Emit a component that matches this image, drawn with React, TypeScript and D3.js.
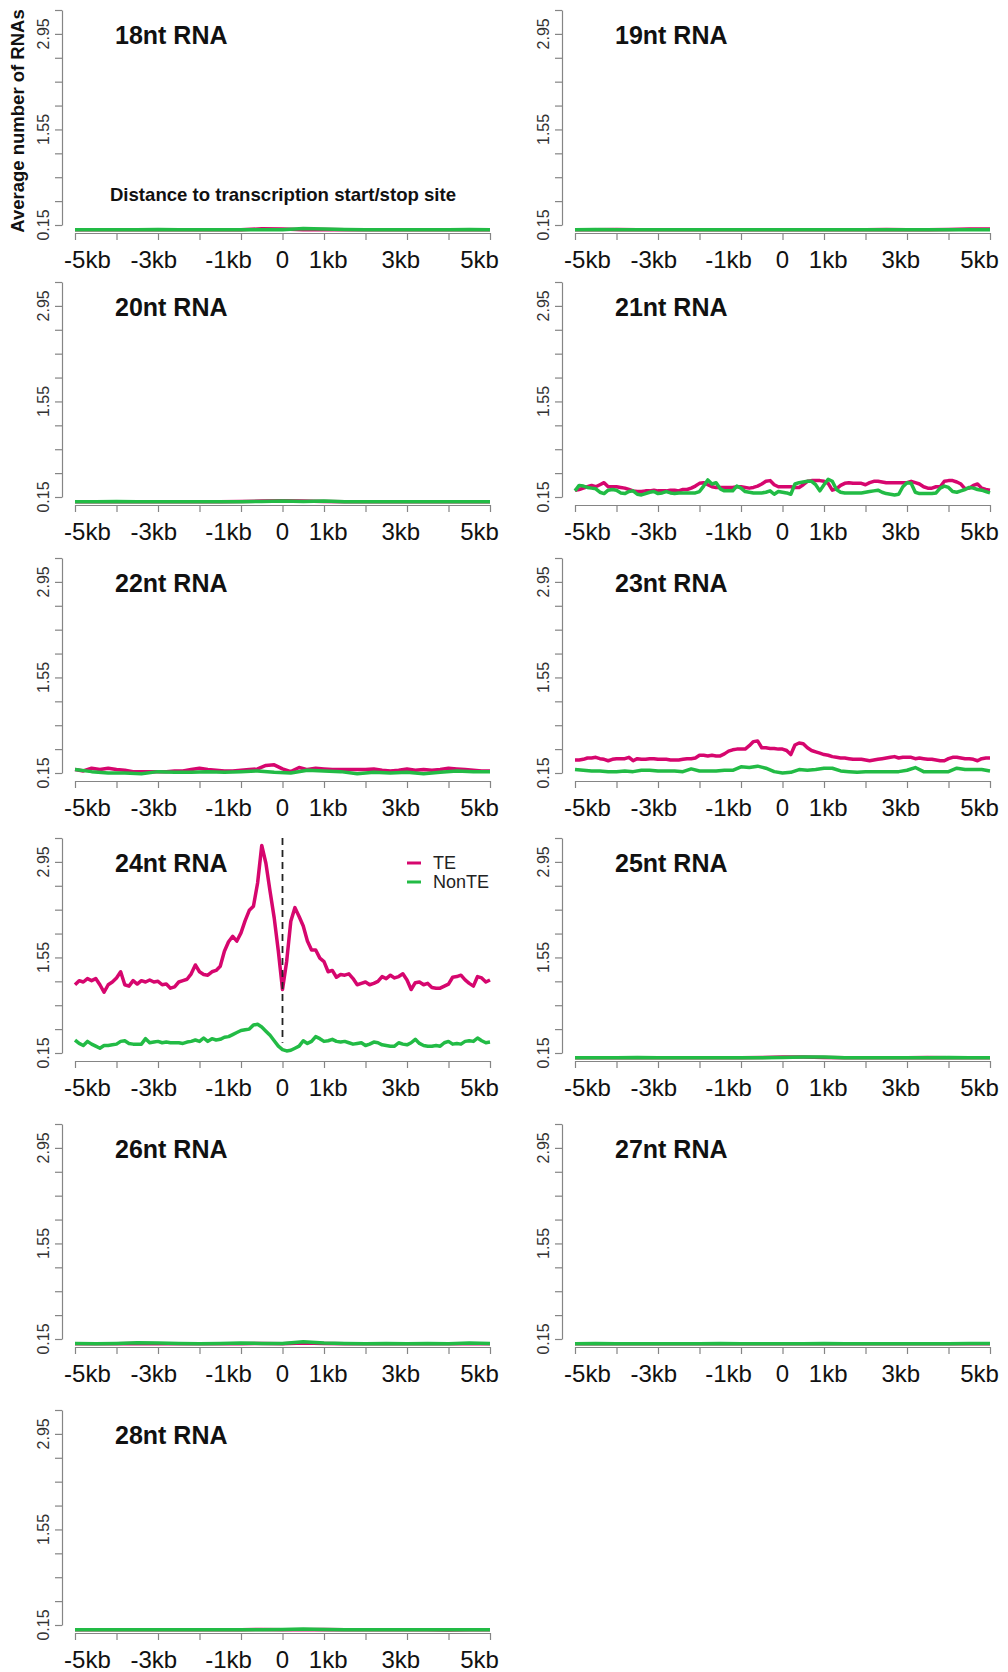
import React, { useEffect, useRef } from "react";
import * as d3 from "d3";

// every series is spread evenly over the -5kb .. 5kb window
const te18 = [0.08, 0.08, 0.08, 0.08, 0.08, 0.08, 0.08, 0.08, 0.08, 0.095, 0.09, 0.08, 0.085, 0.08, 0.08, 0.08, 0.08, 0.08, 0.08, 0.08, 0.08];
const non18 = [0.08, 0.08, 0.08, 0.08, 0.085, 0.08, 0.08, 0.08, 0.08, 0.08, 0.08, 0.1, 0.09, 0.085, 0.08, 0.08, 0.08, 0.08, 0.08, 0.085, 0.08];
const te19 = [0.08, 0.08, 0.085, 0.08, 0.08, 0.08, 0.08, 0.08, 0.08, 0.08, 0.08, 0.08, 0.08, 0.08, 0.08, 0.085, 0.08, 0.08, 0.085, 0.09, 0.09];
const non19 = [0.08, 0.085, 0.08, 0.08, 0.08, 0.08, 0.08, 0.08, 0.08, 0.08, 0.08, 0.08, 0.08, 0.08, 0.08, 0.08, 0.08, 0.08, 0.08, 0.08, 0.08];
const te20 = [0.08, 0.08, 0.08, 0.08, 0.08, 0.08, 0.08, 0.08, 0.085, 0.09, 0.095, 0.09, 0.085, 0.08, 0.08, 0.08, 0.08, 0.08, 0.08, 0.08, 0.08];
const non20 = [0.08, 0.08, 0.085, 0.08, 0.08, 0.08, 0.08, 0.08, 0.08, 0.085, 0.09, 0.085, 0.09, 0.08, 0.08, 0.08, 0.08, 0.08, 0.08, 0.08, 0.08];

const te21 = [0.25, 0.26, 0.28, 0.3, 0.32, 0.3, 0.33, 0.36, 0.3, 0.3, 0.3, 0.29, 0.28, 0.26, 0.24, 0.23, 0.23, 0.24, 0.24, 0.25,
  0.24, 0.24, 0.24, 0.25, 0.25, 0.24, 0.26, 0.26, 0.28, 0.31, 0.35, 0.36, 0.33, 0.3, 0.29, 0.29, 0.29, 0.29, 0.29, 0.3,
  0.3, 0.29, 0.28, 0.29, 0.31, 0.34, 0.38, 0.39, 0.33, 0.3, 0.3, 0.3, 0.3, 0.29, 0.29, 0.33, 0.38, 0.39, 0.39, 0.39,
  0.38, 0.35, 0.25, 0.27, 0.32, 0.35, 0.36, 0.35, 0.35, 0.35, 0.33, 0.36, 0.38, 0.38, 0.37, 0.36, 0.36, 0.36, 0.36, 0.36,
  0.36, 0.38, 0.36, 0.34, 0.3, 0.28, 0.28, 0.3, 0.3, 0.38, 0.39, 0.39, 0.37, 0.34, 0.27, 0.28, 0.32, 0.34, 0.28, 0.26, 0.25];
const non21 = [0.24, 0.32, 0.31, 0.29, 0.28, 0.27, 0.22, 0.2, 0.25, 0.26, 0.25, 0.21, 0.2, 0.23, 0.24, 0.19, 0.18, 0.2, 0.22, 0.23,
  0.2, 0.21, 0.23, 0.21, 0.2, 0.21, 0.21, 0.21, 0.21, 0.21, 0.23, 0.31, 0.4, 0.34, 0.36, 0.27, 0.24, 0.24, 0.24, 0.31,
  0.28, 0.23, 0.22, 0.21, 0.21, 0.21, 0.22, 0.24, 0.19, 0.23, 0.22, 0.21, 0.19, 0.34, 0.36, 0.37, 0.38, 0.38, 0.33, 0.24,
  0.33, 0.41, 0.38, 0.26, 0.22, 0.21, 0.21, 0.21, 0.21, 0.21, 0.22, 0.23, 0.24, 0.25, 0.22, 0.2, 0.19, 0.18, 0.19, 0.3,
  0.36, 0.35, 0.22, 0.2, 0.2, 0.2, 0.2, 0.21, 0.28, 0.31, 0.29, 0.23, 0.22, 0.24, 0.26, 0.29, 0.28, 0.26, 0.25, 0.23, 0.21];

const te22 = [0.2, 0.18, 0.22, 0.2, 0.22, 0.2, 0.19, 0.17, 0.17, 0.17, 0.17, 0.17, 0.18, 0.18, 0.2, 0.22, 0.2, 0.19, 0.18, 0.18,
  0.19, 0.2, 0.21, 0.26, 0.27, 0.21, 0.17, 0.23, 0.2, 0.22, 0.21, 0.2, 0.2, 0.2, 0.2, 0.2, 0.21, 0.19, 0.18, 0.19,
  0.21, 0.19, 0.2, 0.19, 0.2, 0.22, 0.21, 0.2, 0.19, 0.18, 0.18];
const non22 = [0.2, 0.17, 0.15, 0.15, 0.14, 0.17, 0.16, 0.16, 0.17, 0.16, 0.17, 0.18, 0.16, 0.15, 0.19, 0.18, 0.17, 0.14, 0.16, 0.15,
  0.16, 0.14, 0.16, 0.18, 0.17, 0.17];

const te23 = [0.34, 0.34, 0.35, 0.37, 0.37, 0.38, 0.36, 0.35, 0.33, 0.35, 0.36, 0.36, 0.36, 0.38, 0.33, 0.36, 0.35, 0.35, 0.36, 0.36,
  0.35, 0.35, 0.35, 0.34, 0.34, 0.34, 0.35, 0.36, 0.36, 0.37, 0.41, 0.41, 0.4, 0.41, 0.4, 0.4, 0.43, 0.47, 0.49, 0.5,
  0.5, 0.5, 0.55, 0.61, 0.62, 0.52, 0.52, 0.51, 0.51, 0.5, 0.5, 0.48, 0.42, 0.56, 0.59, 0.58, 0.52, 0.48, 0.46, 0.44,
  0.42, 0.41, 0.39, 0.38, 0.37, 0.37, 0.36, 0.35, 0.35, 0.35, 0.34, 0.33, 0.34, 0.35, 0.36, 0.37, 0.38, 0.39, 0.37, 0.38,
  0.38, 0.38, 0.36, 0.37, 0.36, 0.35, 0.35, 0.34, 0.33, 0.33, 0.36, 0.38, 0.38, 0.37, 0.36, 0.36, 0.35, 0.33, 0.36, 0.37, 0.37];
const non23 = [0.2, 0.19, 0.18, 0.18, 0.17, 0.17, 0.18, 0.17, 0.19, 0.19, 0.18, 0.18, 0.18, 0.17, 0.21, 0.18, 0.18, 0.18, 0.19, 0.19,
  0.24, 0.23, 0.25, 0.22, 0.17, 0.15, 0.16, 0.2, 0.19, 0.2, 0.22, 0.22, 0.18, 0.17, 0.16, 0.17, 0.17, 0.17, 0.17, 0.17,
  0.19, 0.23, 0.17, 0.17, 0.17, 0.17, 0.22, 0.2, 0.2, 0.2, 0.18];

const te24 = [1.15, 1.21, 1.19, 1.24, 1.21, 1.24, 1.15, 1.04, 1.15, 1.19, 1.25, 1.34, 1.15, 1.13, 1.21, 1.16, 1.21, 1.19, 1.22, 1.19,
  1.2, 1.15, 1.16, 1.1, 1.12, 1.19, 1.21, 1.23, 1.31, 1.44, 1.34, 1.3, 1.29, 1.34, 1.36, 1.42, 1.64, 1.78, 1.86, 1.79,
  1.91, 2.09, 2.24, 2.3, 2.64, 3.19, 2.93, 2.52, 2.13, 1.64, 1.08, 1.49, 2.08, 2.28, 2.15, 2.01, 1.79, 1.66, 1.66, 1.54,
  1.49, 1.34, 1.36, 1.26, 1.3, 1.29, 1.31, 1.24, 1.15, 1.17, 1.19, 1.15, 1.17, 1.2, 1.27, 1.24, 1.29, 1.25, 1.27, 1.31,
  1.22, 1.08, 1.18, 1.19, 1.15, 1.17, 1.11, 1.1, 1.1, 1.13, 1.16, 1.26, 1.27, 1.29, 1.22, 1.17, 1.13, 1.27, 1.25, 1.19, 1.22];
const non24 = [0.34, 0.29, 0.26, 0.32, 0.28, 0.25, 0.22, 0.26, 0.26, 0.27, 0.28, 0.32, 0.33, 0.29, 0.28, 0.28, 0.28, 0.36, 0.3, 0.31,
  0.32, 0.3, 0.31, 0.3, 0.3, 0.3, 0.29, 0.31, 0.32, 0.34, 0.32, 0.37, 0.32, 0.36, 0.34, 0.35, 0.38, 0.39, 0.42, 0.45,
  0.48, 0.49, 0.5, 0.56, 0.57, 0.53, 0.47, 0.41, 0.33, 0.25, 0.2, 0.18, 0.19, 0.22, 0.25, 0.33, 0.29, 0.32, 0.39, 0.36,
  0.32, 0.33, 0.35, 0.32, 0.31, 0.32, 0.3, 0.28, 0.29, 0.3, 0.26, 0.28, 0.31, 0.3, 0.27, 0.26, 0.25, 0.25, 0.3, 0.28,
  0.27, 0.3, 0.35, 0.29, 0.26, 0.25, 0.25, 0.26, 0.25, 0.3, 0.32, 0.28, 0.29, 0.28, 0.32, 0.33, 0.32, 0.37, 0.33, 0.3, 0.31];

const te25 = [0.08, 0.08, 0.08, 0.08, 0.08, 0.08, 0.08, 0.08, 0.08, 0.085, 0.09, 0.09, 0.085, 0.08, 0.08, 0.08, 0.08, 0.085, 0.08, 0.08, 0.08];
const non25 = [0.08, 0.08, 0.08, 0.085, 0.08, 0.08, 0.08, 0.08, 0.08, 0.08, 0.085, 0.09, 0.09, 0.08, 0.08, 0.08, 0.08, 0.08, 0.085, 0.08, 0.08];
const te26 = [0.08, 0.08, 0.08, 0.085, 0.08, 0.08, 0.08, 0.08, 0.08, 0.085, 0.08, 0.09, 0.085, 0.08, 0.08, 0.08, 0.08, 0.08, 0.08, 0.08, 0.08];
const non26 = [0.085, 0.08, 0.085, 0.095, 0.09, 0.085, 0.08, 0.085, 0.09, 0.085, 0.085, 0.11, 0.09, 0.085, 0.08, 0.085, 0.08, 0.085, 0.08, 0.09, 0.085];
const te27 = [0.08, 0.08, 0.08, 0.08, 0.08, 0.08, 0.08, 0.08, 0.08, 0.08, 0.08, 0.08, 0.08, 0.08, 0.08, 0.08, 0.08, 0.08, 0.08, 0.08, 0.08];
const non27 = [0.08, 0.085, 0.08, 0.08, 0.08, 0.08, 0.08, 0.085, 0.08, 0.08, 0.08, 0.08, 0.085, 0.08, 0.08, 0.08, 0.08, 0.08, 0.08, 0.085, 0.085];
const te28 = [0.08, 0.08, 0.08, 0.08, 0.08, 0.08, 0.08, 0.08, 0.08, 0.085, 0.08, 0.08, 0.085, 0.08, 0.08, 0.08, 0.08, 0.08, 0.075, 0.08, 0.08];
const non28 = [0.08, 0.08, 0.08, 0.08, 0.08, 0.08, 0.08, 0.08, 0.08, 0.08, 0.085, 0.09, 0.085, 0.08, 0.08, 0.08, 0.08, 0.08, 0.08, 0.08, 0.08];

const panelNames = ["18nt RNA", "19nt RNA", "20nt RNA", "21nt RNA", "22nt RNA", "23nt RNA", "24nt RNA",
  "25nt RNA", "26nt RNA", "27nt RNA", "28nt RNA"];
const teSeries = [te18, te19, te20, te21, te22, te23, te24, te25, te26, te27, te28];
const nonSeries = [non18, non19, non20, non21, non22, non23, non24, non25, non26, non27, non28];

const xTicks = [-5, -4, -3, -2, -1, 0, 1, 2, 3, 4, 5];
const xTickLabels = ["-5kb", "-3kb", "-1kb", "0", "1kb", "3kb", "5kb"];
const xTickLabelAt = [-4.7, -3.1, -1.3, 0, 1.1, 2.85, 4.75];
const yTicks = [0.15, 0.5, 0.85, 1.2, 1.55, 1.9, 2.25, 2.6, 2.95, 3.3];
const yTickLabels = ["0.15", "1.55", "2.95"];
const legendLabels = ["TE", "NonTE"];

const TE_COLOR = "#d6066e";
const NON_COLOR = "#22bb45";
const AXIS_COLOR = "#858585";
const FONT = "'Liberation Sans', Arial, sans-serif";

const rowTitleY = [35, 307, 583, 863, 1149, 1435];
const colOffset = 500;

function drawPanel(svg, idx) {
  const ox = (idx % 2) * colOffset;
  const T = rowTitleY[Math.floor(idx / 2)];
  const g = svg.append("g").attr("class", "panel");

  const x = d3.scaleLinear().domain([-5, 5]).range([ox + 75, ox + 490]);
  const y = d3.scaleLinear().domain([0.15, 3.3]).range([T + 190, T - 25]);

  // y axis
  const yAxis = d3.axisLeft(y).tickValues(yTicks).tickSize(7).tickSizeOuter(0).tickFormat(() => "");
  const ya = g.append("g").attr("transform", "translate(" + (ox + 62) + ",0)").call(yAxis);
  ya.selectAll("path,line").attr("stroke", AXIS_COLOR).attr("stroke-width", 1.2);

  yTickLabels.forEach(lab => {
    const v = +lab;
    g.append("text")
      .attr("transform", "translate(" + (ox + 43) + "," + y(v) + ") rotate(-90)")
      .attr("text-anchor", "middle")
      .attr("dominant-baseline", "central")
      .style("font-family", FONT)
      .style("font-size", "16px")
      .attr("fill", "#333")
      .text(lab);
  });

  // x axis
  const xAxis = d3.axisBottom(x).tickValues(xTicks).tickSize(7).tickSizeOuter(0).tickFormat(() => "");
  const xa = g.append("g").attr("transform", "translate(0," + (T + 198) + ")").call(xAxis);
  xa.selectAll("path,line").attr("stroke", AXIS_COLOR).attr("stroke-width", 1.2);

  xTickLabels.forEach((lab, i) => {
    g.append("text")
      .attr("x", x(xTickLabelAt[i]))
      .attr("y", T + 233)
      .attr("text-anchor", "middle")
      .style("font-family", FONT)
      .style("font-size", "24px")
      .attr("fill", "#111")
      .text(lab);
  });

  // title
  g.append("text")
    .attr("x", ox + 115)
    .attr("y", T + 9)
    .style("font-family", FONT)
    .style("font-size", "25px")
    .style("font-weight", "bold")
    .attr("fill", "#111")
    .text(panelNames[idx]);

  const line = d3.line()
    .x((d, i, arr) => x(-5 + (10 * i) / (arr.length - 1)))
    .y(d => y(d));

  [teSeries[idx], nonSeries[idx]].forEach((s, k) => {
    g.append("path")
      .datum(s)
      .attr("d", line)
      .attr("fill", "none")
      .attr("stroke", k === 0 ? TE_COLOR : NON_COLOR)
      .attr("stroke-width", 3.5)
      .attr("stroke-linejoin", "round");
  });

  if (panelNames[idx] === "24nt RNA") {
    g.append("line")
      .attr("x1", x(0)).attr("x2", x(0))
      .attr("y1", y(3.3)).attr("y2", y(0.3))
      .attr("stroke", "#222")
      .attr("stroke-width", 1.8)
      .attr("stroke-dasharray", "7,5");

    legendLabels.forEach((lab, i) => {
      const ly = T + i * 19;
      g.append("line")
        .attr("x1", ox + 407).attr("x2", ox + 421)
        .attr("y1", ly).attr("y2", ly)
        .attr("stroke", i === 0 ? TE_COLOR : NON_COLOR)
        .attr("stroke-width", 3);
      g.append("text")
        .attr("x", ox + 433)
        .attr("y", ly + 6)
        .style("font-family", FONT)
        .style("font-size", "18px")
        .attr("fill", "#222")
        .text(lab);
    });
  }

  if (idx === 0) {
    g.append("text")
      .attr("x", ox + 283)
      .attr("y", T + 166)
      .attr("text-anchor", "middle")
      .style("font-family", FONT)
      .style("font-size", "18.6px")
      .style("font-weight", "bold")
      .attr("fill", "#111")
      .text("Distance to transcription start/stop site");

    g.append("text")
      .attr("transform", "translate(17,121) rotate(-90)")
      .attr("text-anchor", "middle")
      .attr("dominant-baseline", "central")
      .style("font-family", FONT)
      .style("font-size", "18.5px")
      .style("font-weight", "bold")
      .attr("fill", "#111")
      .text("Average number of RNAs");
  }
}

export default function App() {
  const ref = useRef(null);

  useEffect(() => {
    const svg = d3.select(ref.current);
    svg.selectAll("*").remove();
    svg.append("rect").attr("width", 1008).attr("height", 1672).attr("fill", "#fff");
    panelNames.forEach((_, i) => drawPanel(svg, i));
  }, []);

  return (
    <div style={{ position: "absolute", left: 0, top: 0 }}>
      <svg ref={ref} width={1008} height={1672} style={{ display: "block" }} />
    </div>
  );
}
